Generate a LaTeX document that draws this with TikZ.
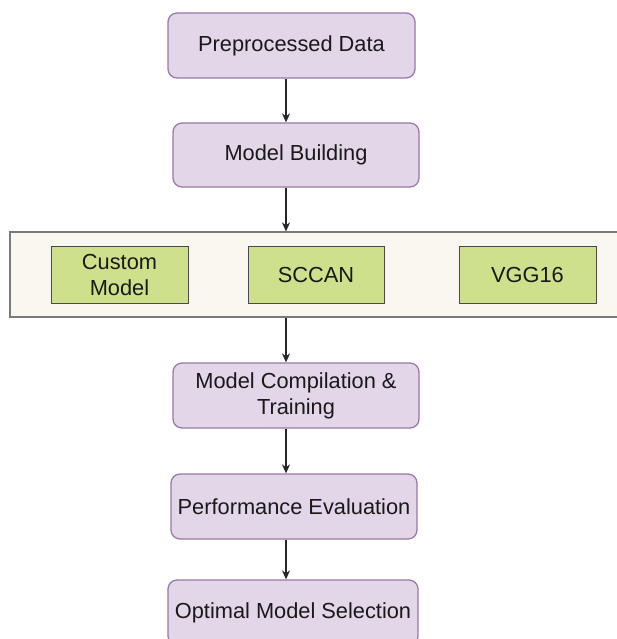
\documentclass[tikz,border=0pt]{standalone}
\usepackage{fontspec}
\setmainfont{Liberation Sans}
\usetikzlibrary{arrows.meta}
\definecolor{pfill}{HTML}{E3D6E9}
\definecolor{pdraw}{HTML}{9A78A8}
\definecolor{gfill}{HTML}{CFE08C}
\definecolor{gdraw}{HTML}{4A4A4A}
\definecolor{bfill}{HTML}{F9F7F0}
\definecolor{bdraw}{HTML}{7A7A7A}
\tikzset{
  x=1pt, y=-1pt,
  stage/.style={draw=pdraw, fill=pfill, line width=1.3pt, rounded corners=9pt,
    inner sep=0pt, minimum height=65pt, align=center,
    font=\fontsize{21.8}{26}\selectfont, text=black!90},
  model/.style={draw=gdraw, fill=gfill, line width=1pt, inner sep=0pt,
    minimum width=137pt, minimum height=57pt, align=center,
    font=\fontsize{21.8}{26}\selectfont, text=black!90},
  band/.style={draw=bdraw, fill=bfill, line width=1.2pt, inner sep=0pt},
  flow/.style={draw=black!85, line width=1.1pt, -{Stealth[length=9pt,width=8pt]}}
}
\begin{document}
\begin{tikzpicture}
\useasboundingbox (0,0) rectangle (617,639);
\fill[white] (0,0) rectangle (617,639);
\coordinate (ax) at (286,0);
\node[stage, minimum width=247pt] (pre) at (291.5,45.5) {Preprocessed Data};
\node[stage, minimum width=246pt, minimum height=64pt] (build) at (296,155) {Model Building};
\node[band, minimum width=612pt, minimum height=85pt] (grp) at (316,274.5) {};
\node[model] (custom) at (119.5,274.5) {Custom\\Model};
\node[model, minimum width=136pt] (sccan) at (316,274.5) {SCCAN};
\node[model] (vgg) at (527.5,274.5) {VGG16};
\node[stage, minimum width=246pt] (comp) at (296,395.5) {Model Compilation \&\\Training};
\node[stage, minimum width=246pt] (perf) at (294,506.5) {Performance Evaluation};
\node[stage, minimum width=250pt] (opt) at (293,612.5) {Optimal Model Selection};
\draw[flow] (pre.south -| ax) -- (build.north -| ax);
\draw[flow] (build.south -| ax) -- (grp.north -| ax);
\draw[flow] (grp.south -| ax) -- (comp.north -| ax);
\draw[flow] (comp.south -| ax) -- (perf.north -| ax);
\draw[flow] (perf.south -| ax) -- (opt.north -| ax);
\end{tikzpicture}
\end{document}
